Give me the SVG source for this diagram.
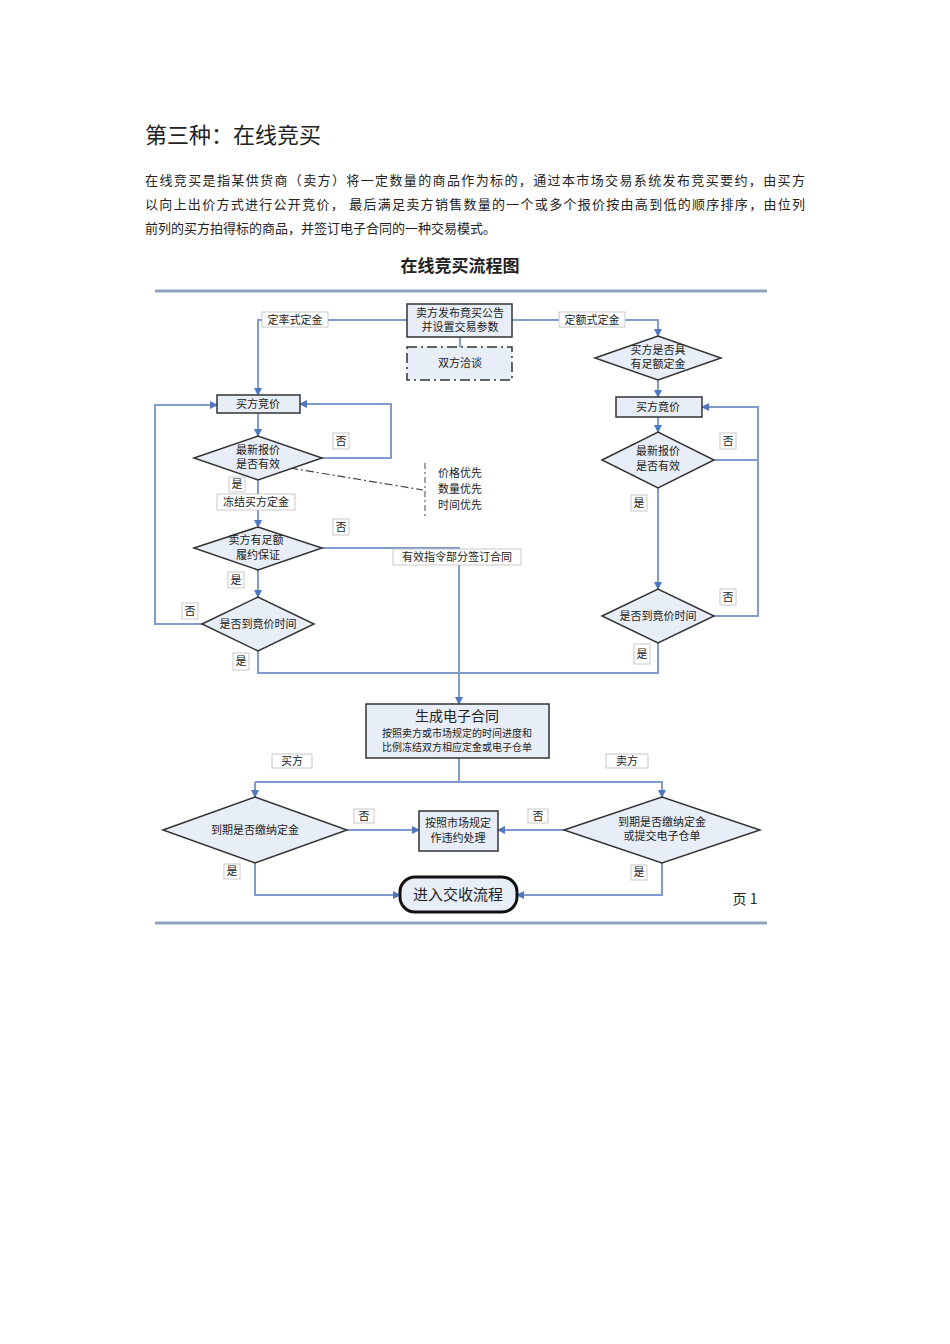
<svg xmlns="http://www.w3.org/2000/svg" width="950" height="1344" viewBox="0 0 950 1344">
<defs>
<marker id="ah" markerWidth="8" markerHeight="8" refX="7" refY="4" orient="auto" markerUnits="userSpaceOnUse"><path d="M0,0 L8,4 L0,8 z" fill="#4f78c0"/></marker>
<style>
text{font-family:"Noto Sans CJK SC","Liberation Sans",sans-serif;fill:#222}
.n{fill:#e8eef7;stroke:#333;stroke-width:1.5}
.c{fill:none;stroke:#7f9ccc;stroke-width:2}
.ca{fill:none;stroke:#7f9ccc;stroke-width:2;marker-end:url(#ah)}
.t{font-size:11px;text-anchor:middle}
.lb{fill:#fff;stroke:#bbb;stroke-width:0.8}
.rule{stroke:#8fa3c0;stroke-width:3}
</style>
</defs>
<rect width="950" height="1344" fill="#fff"/>
<text x="145" y="143" font-size="22" font-family="Noto Sans CJK SC,serif">第三种：在线竞买</text>
<text x="145" y="185" font-size="13" textLength="660">在线竞买是指某供货商（卖方）将一定数量的商品作为标的，通过本市场交易系统发布竞买要约，由买方</text>
<text x="145" y="209" font-size="13" textLength="660">以向上出价方式进行公开竞价， 最后满足卖方销售数量的一个或多个报价按由高到低的顺序排序，由位列</text>
<text x="145" y="233" font-size="13">前列的买方拍得标的商品，并签订电子合同的一种交易模式。</text>
<text x="460" y="272" font-size="17" font-weight="bold" text-anchor="middle">在线竞买流程图</text>
<line class="rule" x1="155" y1="291" x2="767" y2="291"/>
<line class="rule" x1="155" y1="923" x2="767" y2="923"/>

<g id="connectors">
<path class="ca" d="M407,320 H258 V395"/>
<path class="ca" d="M512,320 H658 V336"/>
<path class="c" d="M460,337 V347"/>
<path class="ca" d="M658,380 V397"/>
<path class="ca" d="M658,417 V432"/>
<path class="ca" d="M714,460 H758 V407 H702"/>
<path class="ca" d="M658,488 V589"/>
<path class="c" d="M714,616 H758 V460"/>
<path class="c" d="M658,643 V673 H258 V651"/>
<path class="ca" d="M258,413 V436"/>
<path class="ca" d="M322,458 H391 V404 H300"/>
<path class="ca" d="M258,480 V527"/>
<path class="ca" d="M322,548 H459 V704"/>
<path class="ca" d="M258,570 V597"/>
<path class="ca" d="M202,624 H155 V405 H217"/>
<path d="M290,468 L423,490" fill="none" stroke="#444" stroke-width="1.2" stroke-dasharray="8,3,2,3"/>
<path d="M425,463 V516" fill="none" stroke="#444" stroke-width="1" stroke-dasharray="6,3,2,3"/>
<path class="c" d="M459,758 V782"/>
<path class="ca" d="M255,782 H662 V797"/>
<path class="ca" d="M255,782 V797"/>
<path class="ca" d="M347,830 H419"/>
<path class="ca" d="M564,830 H498"/>
<path class="ca" d="M255,863 V895 H400"/>
<path class="ca" d="M662,863 V895 H517"/>
</g>

<g id="n_publish"><rect class="n" x="407" y="304" width="105" height="33" stroke-width="2"/><text class="t" x="460" y="317">卖方发布竟买公告</text><text class="t" x="460" y="331">并设置交易参数</text></g>
<g id="n_negotiate"><rect class="n" x="407" y="347" width="105" height="33" stroke-dasharray="10,4,2,4"/><text class="t" x="460" y="367">双方洽谈</text></g>
<g id="n_lbid"><rect class="n" x="217" y="395" width="83" height="18"/><text class="t" x="258" y="408">买方竞价</text></g>
<g id="n_l1"><polygon class="n" points="194,458 258,436 322,458 258,480"/><text class="t" x="258" y="454">最新报价</text><text class="t" x="258" y="468">是否有效</text></g>
<g id="n_l2"><polygon class="n" points="194,548 258,527 322,548 258,570"/><text class="t" x="256" y="544">卖方有足额</text><text class="t" x="258" y="559">履约保证</text></g>
<g id="n_l3"><polygon class="n" points="202,624 258,597 314,624 258,651"/><text class="t" x="258" y="628">是否到竟价时间</text></g>
<g id="n_r1"><polygon class="n" points="595,358 658,336 721,358 658,380"/><text class="t" x="658" y="354">买方是否具</text><text class="t" x="658" y="368">有足额定金</text></g>
<g id="n_rbid"><rect class="n" x="616" y="397" width="86" height="20"/><text class="t" x="658" y="411">买方竟价</text></g>
<g id="n_r2"><polygon class="n" points="602,460 658,432 714,460 658,488"/><text class="t" x="658" y="455">最新报价</text><text class="t" x="658" y="470">是否有效</text></g>
<g id="n_r3"><polygon class="n" points="602,616 658,589 714,616 658,643"/><text class="t" x="658" y="620">是否到竟价时间</text></g>
<g id="n_priority"><text class="t" x="460" y="477">价格优先</text><text class="t" x="460" y="493">数量优先</text><text class="t" x="460" y="509">时间优先</text></g>
<g id="n_contract"><rect class="n" x="366" y="704" width="183" height="54"/><text x="457" y="721" font-size="14" text-anchor="middle">生成电子合同</text><text x="457" y="737" font-size="10" text-anchor="middle">按照卖方或市场规定的时间进度和</text><text x="457" y="751" font-size="10" text-anchor="middle">比例冻结双方相应定金或电子仓单</text></g>
<g id="n_bd"><polygon class="n" points="163,830 255,797 347,830 255,863"/><text class="t" x="255" y="834">到期是否缴纳定金</text></g>
<g id="n_sd"><polygon class="n" points="564,830 662,797 760,830 662,863"/><text class="t" x="662" y="826">到期是否缴纳定金</text><text class="t" x="662" y="840">或提交电子仓单</text></g>
<g id="n_breach"><rect class="n" x="419" y="811" width="79" height="40"/><text class="t" x="458" y="827">按照市场规定</text><text class="t" x="458" y="842">作违约处理</text></g>
<g id="n_end"><rect x="400" y="877" width="117" height="35" rx="15" fill="#e8eef7" stroke="#111" stroke-width="3"/><text x="458" y="900" font-size="15" text-anchor="middle">进入交收流程</text></g>

<g id="labels">
<rect class="lb" x="262" y="312" width="66" height="15"/><text class="t" x="295" y="324">定率式定金</text>
<rect class="lb" x="559" y="312" width="66" height="15"/><text class="t" x="592" y="324">定额式定金</text>
<rect class="lb" x="333" y="433" width="16" height="16"/><text class="t" x="341" y="445">否</text>
<rect class="lb" x="229" y="477" width="16" height="15"/><text class="t" x="237" y="488">是</text>
<rect class="lb" x="217" y="494" width="78" height="16"/><text class="t" x="256" y="506">冻结买方定金</text>
<rect class="lb" x="333" y="519" width="16" height="16"/><text class="t" x="341" y="531">否</text>
<rect class="lb" x="393" y="549" width="128" height="16"/><text class="t" x="457" y="561">有效指令部分签订合同</text>
<rect class="lb" x="228" y="572" width="16" height="16"/><text class="t" x="236" y="584">是</text>
<rect class="lb" x="182" y="603" width="16" height="16"/><text class="t" x="190" y="615">否</text>
<rect class="lb" x="233" y="653" width="16" height="17"/><text class="t" x="241" y="665">是</text>
<rect class="lb" x="720" y="433" width="16" height="16"/><text class="t" x="728" y="445">否</text>
<rect class="lb" x="631" y="495" width="16" height="16"/><text class="t" x="639" y="507">是</text>
<rect class="lb" x="720" y="589" width="16" height="16"/><text class="t" x="728" y="601">否</text>
<rect class="lb" x="634" y="644" width="16" height="20"/><text class="t" x="642" y="658">是</text>
<rect class="lb" x="272" y="754" width="40" height="14"/><text class="t" x="292" y="765">买方</text>
<rect class="lb" x="606" y="754" width="42" height="14"/><text class="t" x="627" y="765">卖方</text>
<rect class="lb" x="354" y="809" width="20" height="14"/><text class="t" x="364" y="820">否</text>
<rect class="lb" x="528" y="809" width="20" height="14"/><text class="t" x="538" y="820">否</text>
<rect class="lb" x="224" y="864" width="16" height="15"/><text class="t" x="232" y="875">是</text>
<rect class="lb" x="631" y="865" width="16" height="15"/><text class="t" x="639" y="876">是</text>
<text x="745" y="904" font-size="14" text-anchor="middle">页 1</text>
</g>
</svg>
